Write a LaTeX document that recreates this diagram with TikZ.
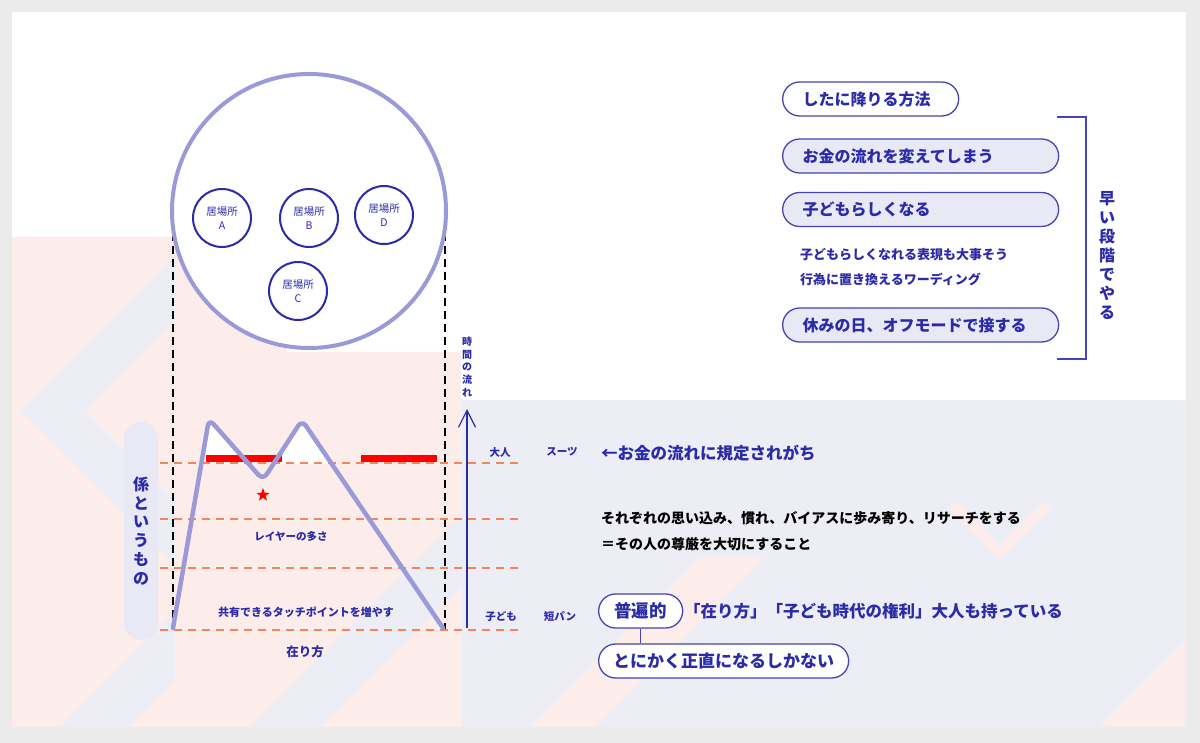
\documentclass[tikz,border=0pt]{standalone}
\usepackage{fontspec}
\setmainfont{Noto Sans CJK JP}
\usetikzlibrary{positioning,shapes.geometric,arrows.meta}
\definecolor{ink}{HTML}{2B2BA8}
\definecolor{pillline}{HTML}{4444B4}
\definecolor{ring}{HTML}{9A9AD8}
\definecolor{pillfill}{HTML}{E9E9F6}
\definecolor{pinkbg}{HTML}{FCEDEA}
\definecolor{lavbg}{HTML}{EDEDF6}
\definecolor{outer}{HTML}{EBEBEB}
\definecolor{dashorange}{HTML}{F4845A}

\tikzset{
  place/.style={circle, draw=ink, line width=2pt, minimum size=58pt, inner sep=0pt,
    fill=white, align=center, text=ink, font=\fontsize{10.5}{14}\selectfont},
  pillbox/.style={draw=pillline, line width=1.3pt, rounded corners=17pt, minimum height=34pt,
    text=ink, font=\bfseries\fontsize{16}{18}\selectfont, inner xsep=20pt, align=left},
  lavpill/.style={pillbox, fill=pillfill, text width=236pt},
  whitepill/.style={pillbox, fill=white},
  layerline/.style={dashorange, line width=1.4pt, dash pattern=on 8pt off 6pt},
  guideline/.style={black, line width=2.4pt, dash pattern=on 8pt off 5pt},
  mountain/.style={ring, line width=4.5pt, rounded corners=7pt, line join=round, line cap=round},
  smalllabel/.style={text=ink, font=\bfseries\fontsize{10.5}{12}\selectfont, inner sep=0pt},
  bluetext/.style={text=ink, font=\bfseries\fontsize{16.5}{18}\selectfont, inner sep=0pt, anchor=west},
  blacktext/.style={text=black, font=\bfseries\fontsize{14}{16}\selectfont, inner sep=0pt, anchor=west},
}

\begin{document}
\begin{tikzpicture}[x=1pt,y=-1pt]
\useasboundingbox (0,0) rectangle (1200,743);

% background
\fill[outer] (0,0) rectangle (1200,743);
\fill[white] (12,12) rectangle (1186,727);
\fill[pinkbg] (12,237) -- (287,237) -- (287,352) -- (462,352) -- (462,400)
  -- (1186,400) -- (1186,727) -- (12,727) -- cycle;
\fill[lavbg] (462,400) rectangle (1186,727);
\fill[lavbg] (20,410) -- (175,255) -- (175,320) -- (85,410) -- (175,500) -- (175,565) -- cycle;
\fill[lavbg] (60,727) -- (175,612) -- (175,680) -- (128,727) -- cycle;
\fill[lavbg] (250,727) -- (462,515) -- (462,585) -- (320,727) -- cycle;
\fill[pinkbg] (530,727) -- (700,557) -- (765,557) -- (595,727) -- cycle;
\fill[pinkbg] (945,505) -- (1000,560) -- (1055,505) -- (1040,505) -- (1000,545) -- (960,505) -- cycle;
\fill[pinkbg] (1100,727) -- (1186,640) -- (1186,727) -- cycle;

% white top of the mountain
\begin{scope}
  \clip (150,400) rectangle (462,463);
  \fill[white, rounded corners=7pt] (173,628) -- (209,419) -- (263,480) -- (302,420) -- (443,628) -- cycle;
\end{scope}

% guides
\coordinate (gl1) at (173,233);
\coordinate (gl2) at (173,630);
\coordinate (gr1) at (445,233);
\coordinate (gr2) at (445,630);
\draw[guideline] (gl1) -- (gl2);
\draw[guideline] (gr1) -- (gr2);

% the zoomed circle
\draw[ring, line width=4pt, fill=white] (309,211) circle (137pt);
\node[place] (placeA) at (222,218) {居場所\\A};
\node[place] (placeB) at (309,218) {居場所\\B};
\node[place] (placeD) at (384,215) {居場所\\D};
\node[place] (placeC) at (298,291) {居場所\\C};

% red bars and star
\fill[red] (206,455) rectangle (282,462);
\fill[red] (361,455) rectangle (437,462);
\node[star, star points=5, star point ratio=2.5, fill=red, minimum size=14pt, inner sep=0pt] (mark) at (263,495) {};

% layers
\foreach \y in {463,519,568,630} {
  \draw[layerline] (160,\y) -- (523,\y);
}

% mountain
\coordinate (m0) at (173,628);
\coordinate (m1) at (209,419);
\coordinate (m2) at (263,480);
\coordinate (m3) at (302,420);
\coordinate (m4) at (443,628);
\draw[mountain] (m0) -- (m1) -- (m2) -- (m3) -- (m4);

\node[smalllabel] (layers) at (291,536) {レイヤーの多さ};
\node[smalllabel, font=\bfseries\fontsize{11}{12}\selectfont] (touch) at (306,612) {共有できるタッチポイントを増やす};
\node[smalllabel, font=\bfseries\fontsize{12.5}{14}\selectfont] (arikata) at (305,652) {在り方};

% left pill
\node[fill=pillfill, rounded corners=17pt, minimum width=34pt, minimum height=218pt,
  text=ink, align=center, inner sep=0pt, font=\bfseries\fontsize{16}{18.8}\selectfont]
  (kakari) at (141,531) {係\\と\\い\\う\\も\\の};

% time arrow
\coordinate (t0) at (467,628);
\coordinate (t1) at (467,409);
\draw[ink, line width=1.2pt, -{Straight Barb[length=17pt, width=17pt]}] (t0) -- (t1);
\node[fill=white, text=ink, align=center, inner sep=1pt, font=\bfseries\fontsize{10}{12.75}\selectfont]
  (flow) at (467,367) {時\\間\\の\\流\\れ};

\node[smalllabel] (otona) at (500,452) {大人};
\node[smalllabel] (suit) at (562,452) {スーツ};
\node[smalllabel] (kodomo) at (501,617) {子ども};
\node[smalllabel] (shorts) at (560,617) {短パン};

% right notes
\node[bluetext] (money) at (601,453) {←お金の流れに規定されがち};
\node[blacktext] (research) at (601,518) {それぞれの思い込み、慣れ、バイアスに歩み寄り、リサーチをする};
\node[blacktext] (dignity) at (601,544) {＝その人の尊厳を大切にすること};

\node[whitepill, font=\bfseries\fontsize{17.5}{18}\selectfont, minimum width=84pt, inner xsep=12pt, anchor=west]
  (fuhen) at (598,611) {普遍的};
\node[bluetext] (rights) at (684,611) {「在り方」「子ども時代の権利」大人も持っている};
\node[whitepill, font=\bfseries\fontsize{17}{18}\selectfont, minimum width=250pt, inner xsep=12pt, anchor=west]
  (honest) at (598,661) {とにかく正直になるしかない};
\draw[pillline, line width=1.3pt] (fuhen.south) -- (fuhen.south |- honest.north);

% top right list
\node[whitepill, anchor=west, text width=136pt] (down) at (782,99) {したに降りる方法};
\node[lavpill, anchor=west] (change) at (782,156) {お金の流れを変えてしまう};
\node[lavpill, anchor=west] (childlike) at (782,209.5) {子どもらしくなる};
\node[text=ink, anchor=west, inner sep=0pt, font=\bfseries\fontsize{13}{25}\selectfont, align=left]
  (wording) at (800,267.5) {子どもらしくなれる表現も大事そう\\行為に置き換えるワーディング};
\node[lavpill, anchor=west] (offmode) at (782,325) {休みの日、オフモードで接する};

\coordinate (b1) at (1057,117);
\coordinate (b2) at (1086,117);
\coordinate (b3) at (1086,359);
\coordinate (b4) at (1057,359);
\draw[pillline, line width=1.3pt] (b1) -- (b2) -- (b3) -- (b4);
\node[text=ink, align=center, inner sep=0pt, font=\bfseries\fontsize{16}{19}\selectfont]
  (early) at (1107,255.5) {早\\い\\段\\階\\で\\や\\る};

\end{tikzpicture}
\end{document}
